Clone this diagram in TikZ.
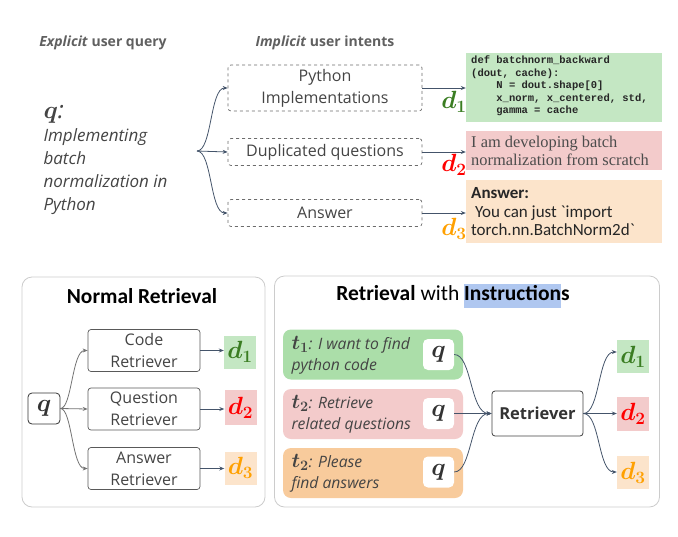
\documentclass[tikz,border=0pt]{standalone}
\usepackage{fontspec}
\usepackage{amsmath}
\setmainfont{Open Sans}
\newfontfamily\carl{Carlito}
\newfontfamily\lmono{Liberation Mono}
\newfontfamily\tserif{Liberation Serif}
\usetikzlibrary{arrows.meta}
\definecolor{slate}{HTML}{44546A}
\definecolor{txtgray}{HTML}{444444}
\definecolor{dgreen}{HTML}{3A7D22}
\definecolor{dred}{HTML}{FF0000}
\definecolor{dorange}{HTML}{FFA000}
\definecolor{bggreen}{HTML}{C4E7C3}
\definecolor{bgpink}{HTML}{F3CBCB}
\definecolor{bgpeach}{HTML}{FCE4CB}
\definecolor{tgreen}{HTML}{ABDEA9}
\definecolor{torange}{HTML}{F8CB9C}
\definecolor{hiblue}{HTML}{AFC7F0}
\newcommand\mydlab[1]{$\boldsymbol{d}_{\boldsymbol{#1}}$}
\newcommand\mytlab[1]{{\fontsize{20}{20}\selectfont$\boldsymbol{t}_{\boldsymbol{#1}}$}}
\begin{document}
\begin{tikzpicture}[x=1pt,y=-1pt,
  conn/.style={draw=slate, line width=0.8pt, -{Stealth[length=5pt,width=4pt]}},
  connb/.style={draw=gray!90!black, line width=0.8pt, -{Stealth[length=5pt,width=4pt]}},
  intent/.style={draw=gray!85!black, dashed, rounded corners=3pt, line width=0.7pt, text=txtgray, font=\fontsize{16}{22}\selectfont, align=center, inner sep=0pt},
  retr/.style={draw=gray!70!black, rounded corners=3pt, line width=0.7pt, text=txtgray, font=\fontsize{16}{22}\selectfont, align=center, inner sep=0pt, minimum width=112pt, minimum height=42pt},
  dsmall/.style={minimum width=32pt, minimum height=33pt, inner sep=0pt, font=\fontsize{24}{24}\selectfont},
  dbig/.style={font=\fontsize{26}{26}\selectfont, inner sep=0pt},
  panel/.style={draw=gray!40, rounded corners=10pt, line width=0.8pt},
  tbox/.style={rounded corners=8pt, minimum width=180pt, minimum height=50pt, inner sep=0pt},
  qbox/.style={fill=white, rounded corners=5pt, minimum width=31pt, minimum height=31pt, inner sep=0pt, font=\fontsize{24}{24}\selectfont},
  ttext/.style={text=txtgray, font=\fontsize{15.7}{21}\selectfont\itshape, align=left, anchor=west}
]
\useasboundingbox (0,0) rectangle (678,536);

% ---------- top part ----------
\node[text=gray!75!black, font=\fontsize{14}{16}\selectfont\bfseries] (hexp) at (103,43) {\textit{Explicit} user query};
\node[text=gray!75!black, font=\fontsize{14}{16}\selectfont\bfseries] (himp) at (325,43) {\textit{Implicit} user intents};

\node[anchor=west, text=txtgray, align=left, font=\fontsize{17}{23}\selectfont\itshape] (qtext) at (40,160)
  {{\fontsize{24}{19}\selectfont$\boldsymbol{q}$:}\\Implementing\\batch\\normalization in\\Python};

\coordinate (fork) at (197,151);

\node[intent, minimum width=194pt, minimum height=46pt] (i1) at (325,88) {Python\\Implementations};
\node[intent, minimum width=194pt, minimum height=27pt] (i2) at (325,152) {Duplicated questions};
\node[intent, minimum width=194pt, minimum height=27pt] (i3) at (325,213) {Answer};

\draw[conn] (fork) .. controls (212,151) and (210,88) .. (i1.west);
\draw[conn] (fork) -- (i2.west);
\draw[conn] (fork) .. controls (212,151) and (210,213) .. (i3.west);

% documents
\node[fill=bggreen, minimum width=196pt, minimum height=69pt, inner sep=0pt] (doc1) at (564,87.5) {};
\node[anchor=north west, inner sep=0pt, align=left, font=\lmono\bfseries\fontsize{10.5}{12.5}\selectfont, text=black!85] (code) at (471,56)
  {def batchnorm\_backward\\(dout, cache):\\\ \ \ \ N = dout.shape[0]\\\ \ \ \ x\_norm, x\_centered, std,\\\ \ \ \ gamma = cache};
\node[fill=bgpink, minimum width=196pt, minimum height=39pt, inner sep=0pt] (doc2) at (564,150.5) {};
\node[anchor=west, inner sep=0pt, align=left, font=\tserif\fontsize{16.4}{18}\selectfont, text=black!70] (doc2t) at (471,150.5)
  {I am developing batch\\normalization from scratch};
\node[fill=bgpeach, minimum width=196pt, minimum height=63pt, inner sep=0pt] (doc3) at (564,211.5) {};
\node[anchor=west, inner sep=0pt, align=left, font=\carl\fontsize{17}{18.5}\selectfont, text=black!85] (doc3t) at (471,212)
  {\textbf{Answer:}\\\ You can just `import\\torch.nn.BatchNorm2d`};

\node[dbig, text=dgreen] (dl1) at (454,102) {\mydlab{1}};
\node[dbig, text=dred] (dl2) at (454,165) {\mydlab{2}};
\node[dbig, text=dorange] (dl3) at (454,229) {\mydlab{3}};

\draw[conn] (i1.east) -- (doc1.west |- i1.east);
\draw[conn] (i2.east) -- (doc2.west |- i2.east);
\draw[conn] (i3.east) -- (doc3.west |- i3.east);

% ---------- bottom left ----------
\node[panel, minimum width=243pt, minimum height=230pt] (pl) at (143.5,392) {};
\node[font=\carl\bfseries\fontsize{21.4}{24}\selectfont] (plt) at (142,296) {Normal Retrieval};

\node[draw=black!80, line width=0.8pt, rounded corners=4pt, minimum width=32pt, minimum height=31pt, inner sep=0pt, font=\fontsize{24}{24}\selectfont, text=black!80] (qn) at (44,408.5) {$\boldsymbol{q}$};

\node[retr] (r1) at (144,350.5) {Code\\Retriever};
\node[retr] (r2) at (144,409) {Question\\Retriever};
\node[retr] (r3) at (144,468.5) {Answer\\Retriever};

\node[dsmall, fill=bggreen, text=dgreen] (n1) at (240,352) {\mydlab{1}};
\node[dsmall, fill=bgpink, text=dred, minimum height=35pt] (n2) at (240.5,407.5) {\mydlab{2}};
\node[dsmall, fill=bgpeach, text=dorange] (n3) at (240.5,468) {\mydlab{3}};

\draw[connb] (qn.east) .. controls (72,408.5) and (72,350.5) .. (r1.west);
\draw[connb] (qn.east) -- (r2.west);
\draw[connb] (qn.east) .. controls (72,408.5) and (72,468.5) .. (r3.west);
\draw[conn] (r1.east) -- (n1.west |- r1.east);
\draw[conn] (r2.east) -- (n2.west |- r2.east);
\draw[conn] (r3.east) -- (n3.west |- r3.east);

% ---------- bottom right ----------
\node[panel, minimum width=385pt, minimum height=231pt] (pr) at (467,391.5) {};
\node[font=\carl\fontsize{21.5}{24}\selectfont] (prt) at (453,296) {\textbf{Retrieval} with {\setlength\fboxsep{0pt}\colorbox{hiblue}{\strut\textbf{Instruction}}}\textbf{s}};

\node[tbox, fill=tgreen] (t1) at (373,354.5) {};
\node[tbox, fill=bgpink] (t2) at (373,414) {};
\node[tbox, fill=torange] (t3) at (373,473) {};

\node[ttext] (t1t) at (288,355) {\mytlab{1}: I want to find\\python code};
\node[ttext] (t2t) at (288,414) {\mytlab{2}: Retrieve\\related questions};
\node[ttext] (t3t) at (288,473) {\mytlab{2}: Please\\find answers};

\node[qbox, text=black!80] (q1) at (438.5,354.5) {$\boldsymbol{q}$};
\node[qbox, text=black!80] (q2) at (438.5,413.5) {$\boldsymbol{q}$};
\node[qbox, text=black!80] (q3) at (438.5,472) {$\boldsymbol{q}$};

\node[draw=black!75, line width=0.8pt, rounded corners=3pt, minimum width=91pt, minimum height=45pt, inner sep=0pt, text=black!80, font=\bfseries\fontsize{16.5}{16.5}\selectfont] (ret) at (537.5,413.5) {Retriever};

\node[dsmall, fill=bggreen, text=dgreen] (o1) at (633,356.5) {\mydlab{1}};
\node[dsmall, fill=bgpink, text=dred, minimum height=34pt] (o2) at (633,414) {\mydlab{2}};
\node[dsmall, fill=bgpeach, text=dorange] (o3) at (633,472.5) {\mydlab{3}};

\draw[conn] (q1.east) .. controls (472,354.5) and (470,413.5) .. (ret.west);
\draw[conn] (q2.east) -- (ret.west);
\draw[conn] (q3.east) .. controls (472,472) and (470,413.5) .. (ret.west);

\draw[conn] (ret.east) .. controls (600,413.5) and (598,352) .. (o1.west |- 0,352);
\draw[conn] (ret.east) -- (o2.west |- ret.east);
\draw[conn] (ret.east) .. controls (600,413.5) and (598,472) .. (o3.west |- 0,472);
\end{tikzpicture}
\end{document}
